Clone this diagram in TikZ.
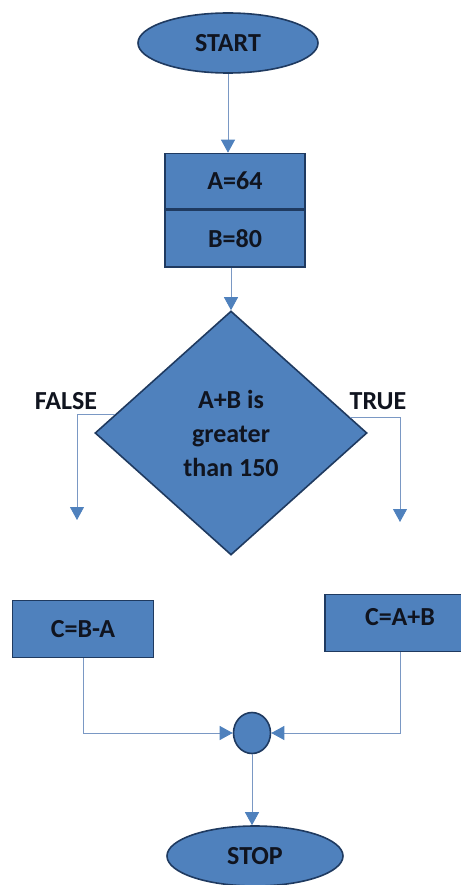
\documentclass[tikz,border=0pt]{standalone}
\usepackage{fontspec}
\setmainfont{Carlito}
\usetikzlibrary{shapes.geometric,arrows.meta,calc}

\definecolor{shapefill}{HTML}{4F81BD}
\definecolor{shapeline}{HTML}{1F3A60}
\definecolor{flowline}{HTML}{7A98C4}
\definecolor{labeltext}{HTML}{10141F}

\begin{document}
\begin{tikzpicture}[x=1pt,y=-1pt]
  \tikzset{
    termstyle/.style={draw=shapeline, line width=1.6pt, fill=shapefill, ellipse, inner sep=0pt},
    procstyle/.style={draw=shapeline, line width=1.6pt, fill=shapefill, rectangle, inner sep=0pt},
    decstyle/.style={draw=shapeline, line width=1.6pt, fill=shapefill, diamond, inner sep=0pt, aspect=1.1},
    flowstyle/.style={draw=flowline, line width=0.9pt, -{Triangle[width=14pt,length=13pt,fill=shapefill,color=shapefill]}},
    every node/.style={font=\bfseries\fontsize{26}{34}\selectfont, text=labeltext}
  }
  \useasboundingbox (0,0) rectangle (460,885);
  % Start and the two assignments
  \node (start) [termstyle, minimum width=180pt, minimum height=60pt] at (228,43) {START};
  \node (a64) [procstyle, minimum width=140pt, minimum height=55pt] at (235,181) {A=64};
  \node (b80) [procstyle, minimum width=140pt, minimum height=57pt, anchor=north] at (a64.south) {B=80};
  % Decision
  \node (dec) [decstyle, minimum width=272pt, minimum height=244pt, align=center] at (231,433) {A+B is\\greater\\than 150};
  \node (falselbl) at (66,401) {FALSE};
  \node (truelbl) at (378,401) {TRUE};
  \coordinate (falsetip) at (77,520);
  \coordinate (truetip) at (400,522);
  % Branches
  \node (cba) [procstyle, minimum width=141pt, minimum height=57pt] at (83,629) {C=B-A};
  \node (cab) [procstyle, minimum width=150pt, minimum height=57pt, text depth=12pt] at (400,623) {C=A+B};
  % Join and stop
  \node (join) [termstyle, minimum width=37pt, minimum height=41pt] at (252,733) {};
  \node (stop) [termstyle, minimum width=176pt, minimum height=60pt] at (255,856) {STOP};
  % Connectors
  \draw[flowstyle] (start.south) -- (start.south |- a64.north);
  \draw[flowstyle] (b80.south -| dec.north) -- (dec.north);
  \draw[flowstyle] ($(dec.west)!0.15!(dec.north)$) -| (falsetip);
  \draw[flowstyle] ($(dec.east)!0.13!(dec.north)$) -| (truetip);
  \draw[flowstyle] (cba.south) |- (join.west);
  \draw[flowstyle] (cab.south) |- (join.east);
  \draw[flowstyle] (join.south) -- (join.south |- stop.north);
\end{tikzpicture}
\end{document}
